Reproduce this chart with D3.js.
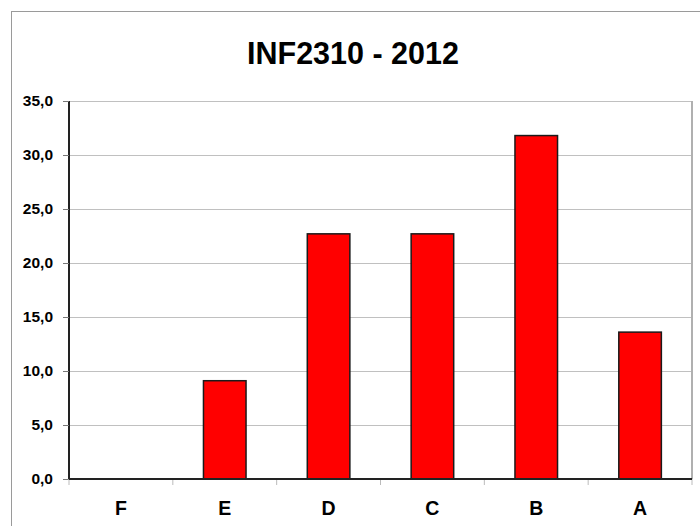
<!DOCTYPE html>
<head>
  <meta charset="utf-8">
  <script src="https://d3js.org/d3.v7.min.js"></script>
  <style>
    body { margin: 0; background: #fff; }
    text { font-family: Arial, "Liberation Sans", sans-serif; font-weight: bold; fill: #000; }
  </style>
</head>
<body>
  <svg width="700" height="526"></svg>
  <script>
    var categories = ["F", "E", "D", "C", "B", "A"];
    var values = [0, 9.1, 22.7, 22.7, 31.8, 13.6];
    var yTicks = [0, 5, 10, 15, 20, 25, 30, 35];
    var title = "INF2310 - 2012";

    var svg = d3.select("svg");
    var margin = { top: 101, left: 69, right: 8, bottom: 47 };
    var width = 700 - margin.left - margin.right;
    var height = 526 - margin.top - margin.bottom;

    // chart frame
    svg.append("rect")
      .attr("x", 11.5).attr("y", 11.5)
      .attr("width", 720).attr("height", 540)
      .attr("fill", "#fff")
      .attr("stroke", "#9a9a9a")
      .attr("stroke-width", 1);

    svg.append("text")
      .attr("x", 353).attr("y", 64)
      .attr("text-anchor", "middle")
      .style("font-size", "30.5px")
      .text(title);

    var x = d3.scaleBand().domain(categories).range([0, width])
      .paddingInner(0.59).paddingOuter(0.295);
    var y = d3.scaleLinear().domain([0, 35]).range([height, 0]);

    var g = svg.append("g")
      .attr("transform", "translate(" + margin.left + "," + margin.top + ")");

    // grid
    g.selectAll(".grid").data(yTicks).enter().append("line")
      .attr("x1", 0).attr("x2", width)
      .attr("y1", function (d) { return Math.round(y(d)) + 0.5; })
      .attr("y2", function (d) { return Math.round(y(d)) + 0.5; })
      .attr("stroke", "#c0c0c0");

    // right border of plot
    g.append("line")
      .attr("x1", width).attr("x2", width)
      .attr("y1", 0).attr("y2", height)
      .attr("stroke", "#b0b0b0").attr("stroke-width", 2);

    // bars
    g.selectAll(".bar").data(values).enter().append("rect")
      .attr("x", function (d, i) { return x(categories[i]); })
      .attr("y", function (d) { return y(d); })
      .attr("width", x.bandwidth())
      .attr("height", function (d) { return height - y(d); })
      .attr("fill", "#ff0000")
      .attr("stroke", "#1a1a1a")
      .attr("stroke-width", 1.5);

    // y axis
    var yAxis = d3.axisLeft(y).tickValues(yTicks).tickSize(6).tickPadding(10)
      .tickFormat(function (d) { return d3.format(".1f")(d).replace(".", ","); });
    var ya = g.append("g").call(yAxis);
    ya.select(".domain").attr("stroke", "#222").attr("stroke-width", 2).attr("d", "M0," + height + "V0");
    ya.selectAll(".tick line").attr("stroke", "#777");
    ya.selectAll("text").style("font-size", "15.5px").style("font-family", "Arial, 'Liberation Sans', sans-serif");

    // x axis: ticks at category boundaries
    var step = x.step();
    var xa = g.append("g").attr("transform", "translate(0," + height + ")");
    xa.selectAll(".xt").data(d3.range(categories.length + 1)).enter().append("line")
      .attr("x1", function (i) { return i * step; })
      .attr("x2", function (i) { return i * step; })
      .attr("y1", 0).attr("y2", 6)
      .attr("stroke", "#bbb");
    xa.append("line")
      .attr("x1", 0).attr("x2", width)
      .attr("y1", 0).attr("y2", 0)
      .attr("stroke", "#222").attr("stroke-width", 2);
    xa.selectAll(".xl").data(categories).enter().append("text")
      .attr("x", function (d) { return x(d) + x.bandwidth() / 2; })
      .attr("y", 36)
      .attr("text-anchor", "middle")
      .style("font-size", "19.5px")
      .text(function (d) { return d; });
  </script>
</body>
